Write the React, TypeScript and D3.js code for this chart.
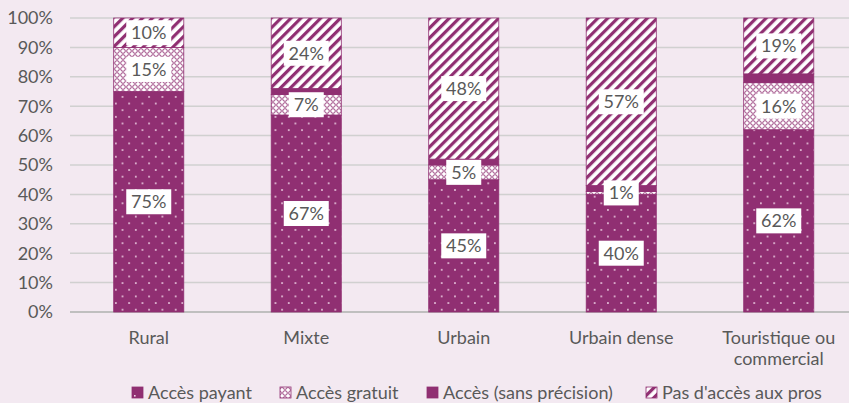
import React from "react";
import * as d3 from "d3";

const categories = ["Rural", "Mixte", "Urbain", "Urbain dense", "Touristique ou\ncommercial"];
const seriesNames = ["Accès payant", "Accès gratuit", "Accès (sans précision)", "Pas d'accès aux pros"];
const payant = [75, 67, 45, 40, 62];
const gratuit = [15, 7, 5, 1, 16];
const sansPrecision = [0, 2, 2, 2, 3];
const pasAcces = [10, 24, 48, 57, 19];
const showLabel = [true, true, false, true];
const yTicks = [0, 10, 20, 30, 40, 50, 60, 70, 80, 90, 100];

const W = 849;
const H = 403;
const PURPLE = "#902f72";
const BG = "#f3e9f1";
const FONT = "Lato, 'Open Sans', sans-serif";

export default function App() {
  const x = d3.scaleBand<string>().domain(categories).range([70, 857.5]).paddingInner(0.555).paddingOuter(0.2775);
  const y = d3.scaleLinear().domain([0, 100]).range([312, 18]);
  const allSeries = [payant, gratuit, sansPrecision, pasAcces];
  const fills = ["url(#pPayant)", "url(#pGratuit)", PURPLE, "url(#pStripes)"];

  const stackData = categories.map((c, i) => {
    const row: any = { cat: c };
    seriesNames.forEach((s, k) => (row[s] = allSeries[k][i]));
    return row;
  });
  const stacked = d3.stack().keys(seriesNames)(stackData as any);

  const legendX = [132, 280, 427, 646];

  return (
    <svg width={W} height={H} style={{ position: "absolute", left: 0, top: 0, background: BG }}>
      <defs>
        <pattern id="pPayant" width={13.3} height={13.3} patternUnits="userSpaceOnUse">
          <rect width={13.3} height={13.3} fill={PURPLE} />
          <rect x={2} y={3} width={1.6} height={1.6} fill="#f3d9ea" />
          <rect x={8.65} y={9.65} width={1.6} height={1.6} fill="#f3d9ea" />
        </pattern>
        <pattern id="pGratuit" width={6} height={6} patternUnits="userSpaceOnUse">
          <rect width={6} height={6} fill="#ffffff" />
          <circle cx={3} cy={3} r={2.3} fill="none" stroke={PURPLE} strokeWidth={0.9} />
        </pattern>
        <pattern id="pStripes" width={7} height={7} patternUnits="userSpaceOnUse" patternTransform="rotate(45)">
          <rect width={7} height={7} fill="#ffffff" />
          <rect width={3.2} height={7} fill={PURPLE} />
        </pattern>
        <pattern id="pPayantL" width={10} height={10} patternUnits="userSpaceOnUse">
          <rect width={10} height={10} fill={PURPLE} />
          <rect x={4} y={5} width={1.6} height={1.6} fill="#f3d9ea" />
        </pattern>
      </defs>

      {yTicks.map((t) => (
        <g key={t}>
          <line x1={70} x2={849} y1={y(t)} y2={y(t)} stroke={t === 0 ? "#bfbfbf" : "#d0d0d0"} strokeWidth={t === 0 ? 2 : 1.5} />
          <text x={53} y={y(t)} dy="0.35em" textAnchor="end" fontFamily={FONT} fontSize={18} fill="#595959">
            {t}%
          </text>
        </g>
      ))}

      {stacked.map((layer, k) => (
        <g key={k}>
          {layer.map((d, i) => {
            const h = y(d[0]) - y(d[1]);
            if (h <= 0) return null;
            return (
              <rect
                key={i}
                x={x(categories[i])!}
                y={y(d[1])}
                width={x.bandwidth()}
                height={h}
                fill={fills[k]}
                stroke={PURPLE}
                strokeWidth={0.8}
              />
            );
          })}
        </g>
      ))}

      {stacked.map((layer, k) =>
        showLabel[k]
          ? layer.map((d, i) => {
              const v = allSeries[k][i];
              const label = `${v}%`;
              const cx = x(categories[i])! + x.bandwidth() / 2;
              const cy = y((d[0] + d[1]) / 2);
              const bw = label.length * 10 + 15;
              return (
                <g key={`${k}-${i}`}>
                  <rect x={cx - bw / 2} y={cy - 12.5} width={bw} height={25} fill="#ffffff" />
                  <text x={cx} y={cy} dy="0.36em" textAnchor="middle" fontFamily={FONT} fontSize={18} fill="#595959">
                    {label}
                  </text>
                </g>
              );
            })
          : null
      )}

      {categories.map((c) => {
        const lines = c.split("\n");
        const cx = x(c)! + x.bandwidth() / 2;
        return (
          <text key={c} x={cx} y={338} textAnchor="middle" fontFamily={FONT} fontSize={18} fill="#595959">
            {lines.map((l, j) => (
              <tspan key={j} x={cx} dy={j === 0 ? "0.35em" : 21}>
                {l}
              </tspan>
            ))}
          </text>
        );
      })}

      {seriesNames.map((s, k) => (
        <g key={s}>
          <rect x={legendX[k]} y={387} width={11} height={11} fill={k === 0 ? "url(#pPayantL)" : fills[k]} stroke={PURPLE} strokeWidth={0.8} />
          <text x={legendX[k] + 16} y={393} dy="0.35em" fontFamily={FONT} fontSize={18} fill="#595959">
            {s}
          </text>
        </g>
      ))}
    </svg>
  );
}
